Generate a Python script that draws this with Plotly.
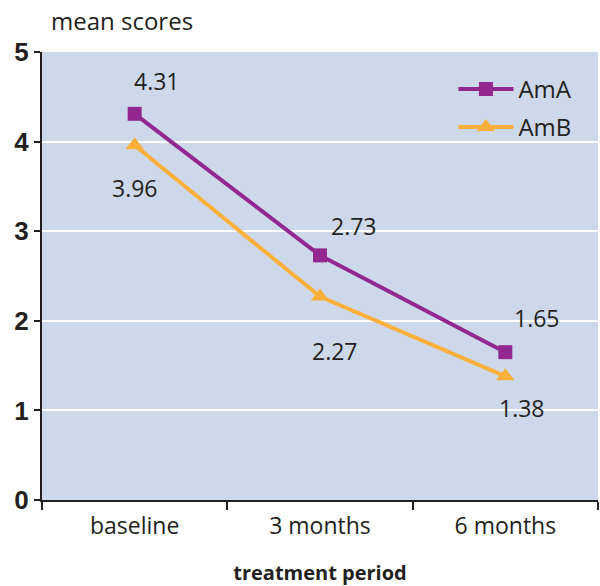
import plotly.graph_objects as go

categories = ["baseline", "3 months", "6 months"]
ama_values = [4.31, 2.73, 1.65]
amb_values = [3.96, 2.27, 1.38]
y_ticks = [0, 1, 2, 3, 4, 5]

PURPLE = "#92278f"
ORANGE = "#fbb03b"
FONT = "Open Sans, Noto Sans, sans-serif"
TXT = "#231f20"

fig = go.Figure()
fig.add_trace(go.Scatter(x=categories, y=ama_values, name="AmA", mode="lines+markers",
                         legendgroup="a",
                         line=dict(color=PURPLE, width=4),
                         marker=dict(symbol="square", size=14, color=PURPLE)))
fig.add_trace(go.Scatter(x=categories, y=amb_values, name="AmB", mode="lines+markers",
                         legendgroup="b",
                         line=dict(color=ORANGE, width=4),
                         marker=dict(symbol="triangle-up", size=16, color=ORANGE)))

# value labels (offsets in pixels)
ama_shift = [(22, 33), (34, 29), (32, 34)]
amb_shift = [(0, -43), (15, -54), (17, -32)]
for cat, v, (dx, dy) in zip(categories, ama_values, ama_shift):
    fig.add_annotation(x=cat, y=v, text=f"{v:.2f}", showarrow=False, xshift=dx, yshift=dy,
                       font=dict(family=FONT, size=23, color=TXT))
for cat, v, (dx, dy) in zip(categories, amb_values, amb_shift):
    fig.add_annotation(x=cat, y=v, text=f"{v:.2f}", showarrow=False, xshift=dx, yshift=dy,
                       font=dict(family=FONT, size=23, color=TXT))

fig.add_annotation(text="mean scores", xref="paper", yref="paper", x=0.012, y=1.0,
                   xanchor="left", yanchor="bottom", yshift=13, showarrow=False,
                   font=dict(family=FONT, size=24, color=TXT))

fig.update_layout(
    width=600, height=586,
    margin=dict(l=42, r=2, t=52, b=86),
    paper_bgcolor="white",
    plot_bgcolor="#cdd8ea",
    font=dict(family=FONT, size=23, color=TXT),
    showlegend=True,
    legend=dict(x=0.74, y=0.967, xanchor="left", yanchor="top", traceorder="grouped",
                bgcolor="rgba(0,0,0,0)", font=dict(family=FONT, size=24, color=TXT),
                itemwidth=55, tracegroupgap=4),
    xaxis=dict(type="category", range=[-0.5, 2.5], tickson="boundaries", automargin=False,
               ticks="outside", ticklen=8, tickwidth=2, tickcolor=TXT,
               ticklabelstandoff=4,
               showline=True, linecolor=TXT, linewidth=2, showgrid=False,
               tickfont=dict(family=FONT, size=23, color=TXT),
               title=dict(text="<b>treatment period</b>", standoff=30,
                          font=dict(family=FONT, size=20, color=TXT))),
    yaxis=dict(range=[0, 5], tickvals=y_ticks, ticks="outside", ticklen=6, tickwidth=2,
               automargin=False,
               tickcolor=TXT, showline=True, linecolor=TXT, linewidth=2,
               showgrid=True, gridcolor="white", gridwidth=2, zeroline=False,
               tickfont=dict(family="Liberation Sans, Arial, sans-serif", size=26,
                             color=TXT, weight="bold")),
)

fig.write_html("out.html", config={"displayModeBar": False},
               post_script="document.body.style.margin='0';document.body.style.overflow='hidden';")
